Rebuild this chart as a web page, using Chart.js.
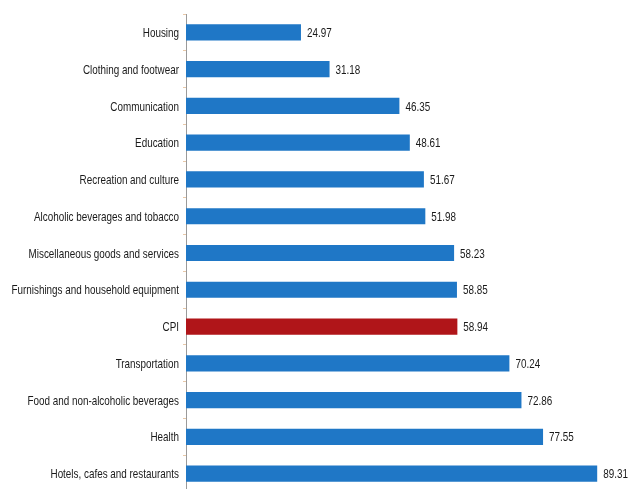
<!DOCTYPE html>
<html>
<head>
<meta charset="utf-8">
<script src="https://cdn.jsdelivr.net/npm/chart.js@4"></script>
<style>
  html, body { margin: 0; padding: 0; background: #fff; overflow: hidden; }
  #wrap { width: 632px; height: 492px; position: relative; }
</style>
</head>
<body>
<div id="wrap"><canvas id="cpi"></canvas></div>
<script>
// categories, top to bottom
const categories = [
  "Housing",
  "Clothing and footwear",
  "Communication",
  "Education",
  "Recreation and culture",
  "Alcoholic beverages and tobacco",
  "Miscellaneous goods and services",
  "Furnishings and household equipment",
  "CPI",
  "Transportation",
  "Food and non-alcoholic beverages",
  "Health",
  "Hotels, cafes and restaurants"
];
const values = [24.97, 31.18, 46.35, 48.61, 51.67, 51.98, 58.23, 58.85, 58.94, 70.24, 72.86, 77.55, 89.31];
const highlight = "CPI"; // drawn in red

const blue = "#1f77c6";
const red = "#b01519";
const font = "13px 'Liberation Sans', Arial, sans-serif";
const squeeze = 0.76; // the original text is very narrow

// draws narrow text, right or left aligned at x
function narrowText(ctx, txt, x, y, align) {
  ctx.save();
  ctx.translate(x, y);
  ctx.scale(squeeze, 1);
  ctx.textAlign = align;
  ctx.fillText(txt, 0, 0);
  ctx.restore();
}

// category names and the numbers at the end of each bar
const narrowLabels = {
  id: "narrowLabels",
  afterDatasetsDraw(chart) {
    const ctx = chart.ctx;
    const meta = chart.getDatasetMeta(0);
    const yScale = chart.scales.y;
    ctx.save();
    ctx.font = font;
    ctx.fillStyle = "#1a1a1a";
    ctx.textBaseline = "middle";
    categories.forEach((c, i) => {
      narrowText(ctx, c, yScale.right - 7, yScale.getPixelForTick(i) + 1, "right");
    });
    meta.data.forEach((bar, i) => {
      narrowText(ctx, values[i].toFixed(2), bar.x + 6, bar.y + 1, "left");
    });
    ctx.restore();
  }
};

new Chart("cpi", {
  type: "bar",
  data: {
    labels: categories,
    datasets: [{
      data: values,
      backgroundColor: categories.map(c => c == highlight ? red : blue),
      barPercentage: 0.44,
      categoryPercentage: 1
    }]
  },
  options: {
    indexAxis: "y",
    responsive: true,
    maintainAspectRatio: false,
    animation: false,
    layout: { padding: { top: 14, right: 4, bottom: 0, left: 0 } },
    plugins: {
      legend: { display: false },
      tooltip: { enabled: false }
    },
    scales: {
      x: {
        display: false,
        min: 0,
        max: 96
      },
      y: {
        afterFit(scale) { scale.width = 186; },
        border: { display: true, color: "#9a9a9a", width: 1 },
        grid: {
          offset: true,
          drawOnChartArea: false,
          drawTicks: true,
          tickLength: 3,
          color: "#e8c8a8"
        },
        ticks: { display: false }
      }
    }
  },
  plugins: [narrowLabels]
});
</script>
</body>
</html>
